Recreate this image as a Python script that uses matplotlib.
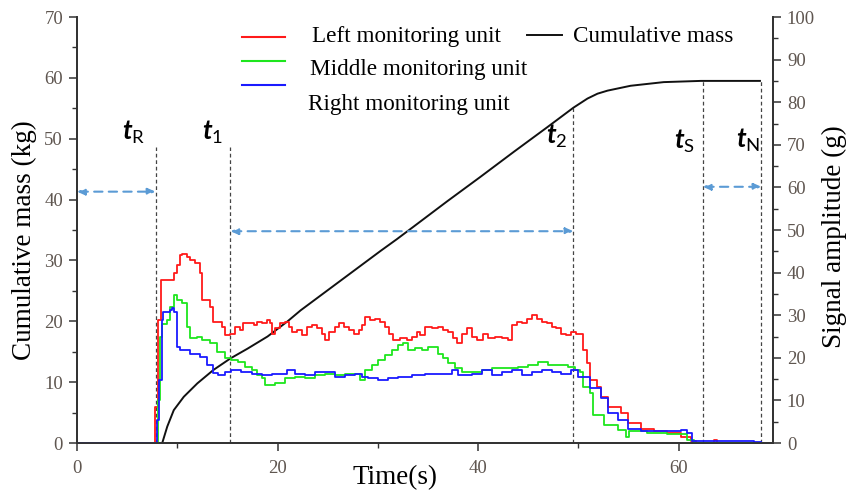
import matplotlib
matplotlib.use("Agg")
import matplotlib.pyplot as plt
from matplotlib.lines import Line2D
from matplotlib.ticker import MultipleLocator

plt.rcParams['font.family'] = ['Liberation Serif', 'DejaVu Serif']
plt.rcParams['mathtext.fontset'] = 'custom'
plt.rcParams['mathtext.it'] = 'Lato:italic:bold'
plt.rcParams['mathtext.rm'] = 'Lato'

# ---------------- data ----------------
# signal amplitude (g), right axis
red_t = [0, 7.6, 7.8, 8.05, 8.4, 9.5, 9.65, 10.0, 10.3, 10.5, 10.95, 11.3, 11.8, 12.25, 12.5,
         13.3, 13.6, 14.5,
         14.76, 15.26, 15.76, 16.26, 16.6, 17.1, 17.6, 17.9, 18.4, 18.9, 19.25, 19.4, 19.75,
         20.2, 20.7, 21.1, 21.4, 21.9, 22.4, 22.9, 23.4, 23.9, 24.4, 24.7, 25.1, 25.7, 26.1,
         26.6, 27.1, 27.6, 28.1, 28.4, 28.7, 29.2, 29.7, 30.2, 30.7, 31.1, 31.55, 32.2, 32.9,
         33.4, 33.9, 34.2, 34.7, 35.4, 36.0, 36.5, 37.0, 37.5, 37.9, 38.4, 38.9, 39.4, 39.9,
         40.5, 41.0, 41.7, 42.4, 43.0, 43.35, 43.85, 44.35, 44.85, 45.35, 45.85, 46.35, 46.85,
         47.35, 47.8, 48.3, 48.8, 49.3, 49.8,
         50.5, 50.9, 51.2, 51.9, 52.2, 52.9, 54.2, 54.9, 56.2, 57.5,
         58.8, 60.2, 61.2, 61.7, 63.3, 63.5, 63.8, 68.2]
red_g = [0, 0, 8.5, 28.9, 38.3, 38.3, 39.8, 41.8, 44.1, 44.4, 43.7, 43.0, 42.2, 39.8, 33.6,
         32.0, 28.5, 27.3,
         25.3, 25.7, 27.3, 26.5, 28.1, 28.1, 27.7, 28.5, 28.1, 28.9, 28.1, 25.7, 26.9,
         28.1, 28.5, 27.3, 26.1, 26.5, 25.3, 27.3, 27.7, 26.9, 25.7, 24.2, 26.1, 27.3, 28.1,
         27.3, 26.5, 25.7, 26.5, 27.7, 29.6, 28.9, 29.2, 28.5, 27.3, 25.7, 24.2, 24.6, 24.2,
         24.9, 26.1, 25.3, 27.3, 26.9, 27.3, 26.5, 26.1, 24.6, 23.4, 25.7, 26.9, 24.9, 24.2,
         25.7, 24.6, 24.9, 24.6, 24.2, 27.7, 28.5, 28.1, 29.2, 30.0, 29.2, 28.5, 28.1,
         27.3, 26.9, 25.7, 25.3, 26.1, 25.7,
         21.8, 18.7, 14.8, 13.2, 10.9, 8.5, 7.0, 4.6, 3.4, 2.7,
         2.3, 1.5, 0.4, 0, 0, 0.8, 0, 0]

green_t = [0, 7.9, 8.1, 8.3, 8.45, 9.0, 9.3, 9.65, 10.0, 10.5, 11.0, 11.3, 12.0, 12.5, 13.3,
           14.0,
           14.76, 15.4, 16.1, 16.75, 17.4, 17.9, 18.4, 18.75, 19.75, 20.7, 21.7, 22.7, 23.7,
           24.7, 25.7, 26.7, 27.7, 28.2, 28.7, 29.4, 30.05, 30.7, 31.4, 32.05, 32.5, 33.05,
           33.7, 34.4, 35.0, 35.5, 36.0, 36.5, 37.0, 37.7, 38.4, 39.4, 40.4, 41.4, 42.4, 43.35,
           44.0, 45.0, 46.0, 47.0, 48.0, 49.0, 49.7,
           50.2, 50.5, 51.2, 51.5, 52.5, 53.9, 54.7, 55.0, 56.8, 58.8, 60.8, 61.5, 68.2]
green_g = [0, 0, 10, 25, 28, 28.9, 32.0, 34.7, 33.6, 32.8, 27.3, 24.6, 24.9, 24.2, 23.4,
           21.4,
           19.9, 19.5, 19.1, 17.9, 17.1, 15.9, 15.2, 13.6, 14.0, 15.2, 15.6, 15.2, 15.9,
           16.3, 15.9, 16.3, 16.3, 14.8, 17.1, 18.3, 19.5, 20.6, 21.8, 23.0, 23.4, 21.8,
           22.2, 21.8, 22.6, 22.6, 21.0, 19.9, 18.7, 17.5, 16.7, 16.7, 17.1, 17.5, 17.5, 17.5,
           17.9, 18.3, 19.1, 18.3, 18.3, 17.9, 17.1,
           16.7, 13.2, 11.7, 6.6, 4.2, 3.1, 1.5, 2.7, 2.3, 2.0, 0.8, 0, 0]

blue_t = [0, 7.9, 7.95, 8.2, 8.45, 8.6, 9.3, 9.5, 9.65, 10.0, 10.3, 11.3, 12.3, 13.0, 13.6,
          14.1,
          14.76, 15.4, 16.4, 17.4, 18.4, 19.4, 20.4, 20.9, 21.7, 22.7, 23.7, 24.7, 25.7, 26.7,
          27.7, 28.4, 29.05, 30.05, 31.05, 32.05, 33.4, 34.7, 36.0, 37.4, 38.0, 39.4, 40.4,
          41.4, 42.4, 43.35, 44.35, 45.35, 46.35, 47.35, 48.3, 49.3, 50.0,
          51.2, 52.2, 52.9, 53.9, 54.9, 56.2, 58.8, 60.2, 60.8, 61.3, 62.1, 67.5, 68.2]
blue_g = [0, 0, 5.4, 14.8, 28.9, 30.8, 31.2, 31.6, 30.8, 22.6, 21.8, 21.0, 20.3, 18.3, 16.4,
          16.0,
          16.7, 17.1, 16.7, 16.3, 15.9, 16.3, 16.3, 17.1, 16.3, 15.9, 16.7, 16.7, 15.6, 15.9,
          16.3, 15.6, 15.2, 14.8, 15.2, 15.6, 15.9, 16.3, 16.3, 17.1, 15.9, 16.3, 17.1,
          15.9, 16.7, 17.1, 15.9, 16.7, 17.1, 16.7, 16.3, 17.1, 15.6,
          12.8, 10.5, 7.0, 5.4, 3.4, 2.7, 2.7, 3.1, 2.3, 0.5, 0.5, 0.3, 0.3]

# cumulative mass (kg), left axis
mass_t = [8.5, 9.0, 9.65, 10.65, 12.0, 13.6, 15.3, 17.0, 19.0, 21.0, 22.3, 30.3, 31.9, 33.6,
          36.9, 40.2, 43.6, 46.9, 49.5, 50.9, 51.9, 52.9, 55.2, 58.5, 62.2, 68.1]
mass_kg = [0, 2.7, 5.4, 7.6, 9.8, 12.0, 13.9, 15.5, 17.5, 20.0, 21.8, 31.6, 33.5, 35.6,
           39.7, 43.7, 47.9, 51.9, 55.1, 56.6, 57.4, 57.9, 58.7, 59.3, 59.5, 59.5]

# characteristic times (s)
marker_names = ['R', '1', '2', 'S', 'N']
marker_t = [7.83, 15.3, 49.5, 62.4, 68.25]
marker_top = [48.6, 48.6, 55.1, 59.5, 59.5]

# interval arrows (start, end, level in kg)
arrow_start = [0, 15.3, 62.4]
arrow_end = [7.83, 49.5, 68.25]
arrow_level = [41.3, 34.8, 42.1]

# ---------------- figure ----------------
fig = plt.figure(figsize=(8.46, 4.90), dpi=100)
ax = fig.add_axes([77/846, 1-443/490, 696/846, 426/490])
ax2 = ax.twinx()

tick_col = '#5f5650'
spine_col = '#333333'

ax.plot(mass_t, mass_kg, color='#111111', lw=1.4, zorder=3)
ax2.plot(red_t, red_g, color='#ff1a1a', lw=1.3, drawstyle='steps-post')
ax2.plot(green_t, green_g, color='#1ee61e', lw=1.3, drawstyle='steps-post')
ax2.plot(blue_t, blue_g, color='#1a1aff', lw=1.3, drawstyle='steps-post')

# vertical dashed lines
for t, top in zip(marker_t, marker_top):
    ax.vlines(t, 0, top, colors='#444444', linestyles=(0, (3, 2.2)), lw=0.9)

# interval arrows
for a, b, lev in zip(arrow_start, arrow_end, arrow_level):
    ax.annotate('', xy=(b, lev), xytext=(a, lev),
                arrowprops=dict(arrowstyle='<|-|>,head_length=0.45,head_width=0.2',
                                color='#5b9bd5', lw=1.5, linestyle=(0, (4, 3)),
                                shrinkA=0, shrinkB=0))

# labels for characteristic times
lab_dx = [1.0, 0.7, 0.6, 0.8, 0.1]
lab_y = [49.8, 49.8, 49.1, 48.3, 48.5]
for name, t, dx, y in zip(marker_names, marker_t, lab_dx, lab_y):
    ax.text(t - dx, y, r'$t_{\mathrm{%s}}$' % name, ha='right', va='baseline',
            fontsize=19, color='black')

ax.set_xlim(0, 69.4)
ax.set_ylim(0, 70)
ax2.set_ylim(0, 100)

ax.xaxis.set_major_locator(MultipleLocator(20))
ax.xaxis.set_minor_locator(MultipleLocator(10))
ax.yaxis.set_major_locator(MultipleLocator(10))
ax.yaxis.set_minor_locator(MultipleLocator(5))
ax2.yaxis.set_major_locator(MultipleLocator(10))
ax2.yaxis.set_minor_locator(MultipleLocator(5))

for a in (ax, ax2):
    a.spines['top'].set_visible(False)
    for s in a.spines.values():
        s.set_color(spine_col)
        s.set_linewidth(1.3)
    a.tick_params(which='major', direction='out', length=6, width=1.1, color=spine_col,
                  labelsize=13.5, labelcolor=tick_col, pad=4)
    a.tick_params(which='minor', direction='out', length=3.5, width=1.0, color=spine_col)
ax.tick_params(axis='x', which='major', pad=6)

ax.set_xlabel('Time(s)', fontsize=19.5)
ax.xaxis.set_label_coords((395-77)/696, -0.052)
ax.set_ylabel('Cumulative mass (kg)', fontsize=19.5)
ax.yaxis.set_label_coords(-0.0575, 0.4765)
ax2.set_ylabel('Signal amplitude (g)', fontsize=19.5)
ax2.yaxis.set_label_coords(1.0704, 0.484)

# legend (manual, mimicking the overlay text box)
def fx(px):
    return px / 846
def fy(py):
    return 1 - py / 490

handles = [('#ff1a1a', 36.7), ('#1ee61e', 60.7), ('#1a1aff', 85.0)]
for col, py in handles:
    fig.add_artist(Line2D([fx(242), fx(285)], [fy(py), fy(py)], color=col, lw=1.5))
fig.add_artist(Line2D([fx(527), fx(562)], [fy(35), fy(35)], color='#111111', lw=1.4))

leg_fs = 16.7
fig.text(fx(312), fy(41.7), 'Left monitoring unit', fontsize=leg_fs, va='baseline')
fig.text(fx(310), fy(75), 'Middle monitoring unit', fontsize=leg_fs, va='baseline')
fig.text(fx(308), fy(110), 'Right monitoring unit', fontsize=leg_fs, va='baseline')
fig.text(fx(573), fy(41.7), 'Cumulative mass', fontsize=leg_fs, va='baseline')

fig.savefig('out.png', dpi=100)
